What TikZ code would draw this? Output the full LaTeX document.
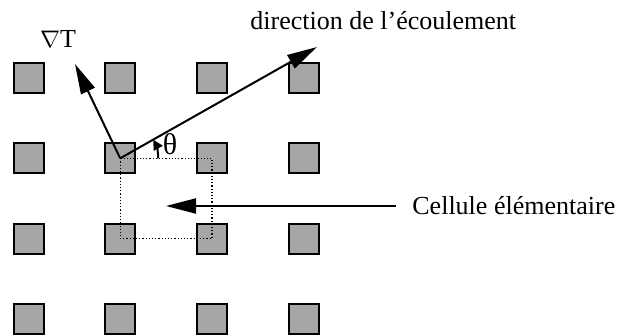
\documentclass[tikz,border=0pt]{standalone}
\usepackage{fontspec}
\setmainfont{Liberation Serif}
\usetikzlibrary{arrows.meta}
\definecolor{cellgray}{RGB}{166,166,166}

\begin{document}
\begin{tikzpicture}[x=0.5pt, y=-0.5pt,
    pillar/.style={draw, line width=1pt, fill=cellgray, minimum size=15pt, inner sep=0pt},
    arr/.style={-{Triangle[length=15pt, width=7.5pt]}, line width=1pt},
    lbl/.style={font=\fontsize{13}{15}\selectfont, inner sep=0pt}
]
    \useasboundingbox (0,0) rectangle (620,336);

    % square pillars
    \foreach \i in {0,...,3}
        \foreach \j in {0,...,3}
            \node[pillar] (s-\i-\j) at (28.5+91.7*\i, 78+80.3*\j) {};

    % elementary cell
    \draw[densely dotted, line width=0.6pt] (s-1-1.center) rectangle (s-2-2.center);

    \coordinate (gradtip) at (75,64);
    \coordinate (flowtip) at (317,47);
    \coordinate (celltip) at (166,206);

    \node[lbl] (grad) at (58,39) {$\nabla$T};
    \node[lbl, anchor=west] (flow) at (250,21) {direction de l’écoulement};
    \node[lbl, anchor=west] (cell) at (412,206) {Cellule élémentaire};
    \node[lbl, font=\fontsize{15}{17}\selectfont] (theta) at (170,144) {θ};

    \draw[arr] (s-1-1.center) -- (gradtip);
    \draw[arr] (s-1-1.center) -- (flowtip);
    \draw[arr, shorten <=8pt] (cell.west) -- (celltip);
    \draw[line width=1pt, -{Triangle[length=5pt, width=5pt]}]
        ([shift={(0:38)}]s-1-1.center) arc[start angle=0, end angle=-29.4, radius=38];
\end{tikzpicture}
\end{document}
